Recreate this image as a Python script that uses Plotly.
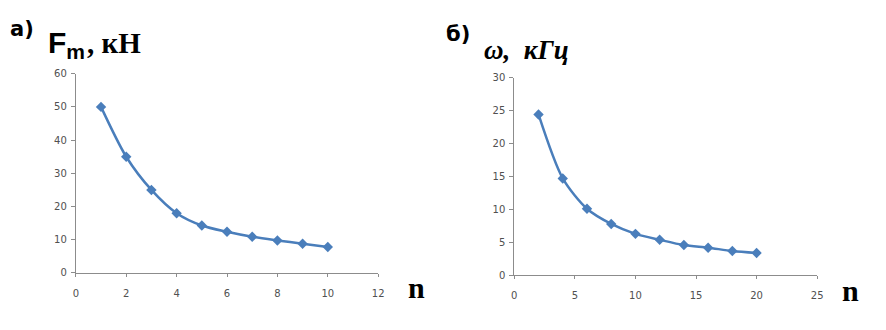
import plotly.graph_objects as go

# Data
n_a = [1, 2, 3, 4, 5, 6, 7, 8, 9, 10]
Fm_a = [50, 35, 25, 18, 14.3, 12.4, 10.9, 9.8, 8.8, 7.8]
n_b = [2, 4, 6, 8, 10, 12, 14, 16, 18, 20]
omega_b = [24.4, 14.7, 10.1, 7.8, 6.3, 5.4, 4.6, 4.2, 3.7, 3.4]

OFF = 8  # page body margin
W, H = 886 - OFF, 330 - OFF
blue = "#4A7EBB"
axis_col = "#8C8C8C"
tick_font = dict(family="DejaVu Sans", size=10, color="#505050")

def px_x(p):
    return (p - OFF) / W

def px_y(p):
    return 1 - (p - OFF) / H

fig = go.Figure()
fig.add_trace(go.Scatter(x=n_a, y=Fm_a, mode="lines+markers",
                         line=dict(color=blue, width=2.5, shape="spline", smoothing=0.8),
                         marker=dict(symbol="diamond", size=8, color=blue),
                         xaxis="x", yaxis="y", showlegend=False))
fig.add_trace(go.Scatter(x=n_b, y=omega_b, mode="lines+markers",
                         line=dict(color=blue, width=2.5, shape="spline", smoothing=0.8),
                         marker=dict(symbol="diamond", size=8, color=blue),
                         xaxis="x2", yaxis="y2", showlegend=False))

ax_common = dict(showgrid=False, zeroline=False, showline=True, linecolor=axis_col,
                 linewidth=1, ticks="outside", tickcolor=axis_col, tickfont=tick_font)

fig.update_layout(
    width=W, height=H,
    margin=dict(l=0, r=0, t=0, b=0),
    paper_bgcolor="white", plot_bgcolor="white",
    xaxis=dict(domain=[px_x(73.5), px_x(379)], range=[0, 12], dtick=2, ticklen=3,
               ticklabelstandoff=8, anchor="y", **ax_common),
    yaxis=dict(domain=[px_y(277), px_y(70)], range=[0, 60], dtick=10, ticklen=4,
               ticklabelstandoff=2, anchor="x", **ax_common),
    xaxis2=dict(domain=[px_x(516.5), px_x(822.5)], range=[0, 25], dtick=5, ticklen=3,
                ticklabelstandoff=8, anchor="y2", **ax_common),
    yaxis2=dict(domain=[px_y(279.5), px_y(74)], range=[0, 30], dtick=5, ticklen=4,
                ticklabelstandoff=2, anchor="x2", **ax_common),
)

def ann(text, x, y, size, family, xanchor="left"):
    fig.add_annotation(text=text, x=px_x(x), y=px_y(y), xref="paper", yref="paper",
                       xanchor=xanchor, yanchor="middle", showarrow=False,
                       font=dict(size=size, family=family, color="black"))

ann("<b>а)</b>", 5, 24, 21, "DejaVu Sans")
ann("<b>б)</b>", 445, 29, 21, "DejaVu Sans")
ann("<b>F<sub>m</sub></b>", 43, 40, 30, "Liberation Sans")
ann("<b>, кН</b>", 83, 38, 29, "Liberation Serif")
ann("<b><i>ω,  кГц</i></b>", 484, 45, 27, "Liberation Serif")
ann("<b>n</b>", 407, 292, 30, "Liberation Serif")
ann("<b>n</b>", 846, 295, 30, "Liberation Serif")

fig.write_html("out.html")
